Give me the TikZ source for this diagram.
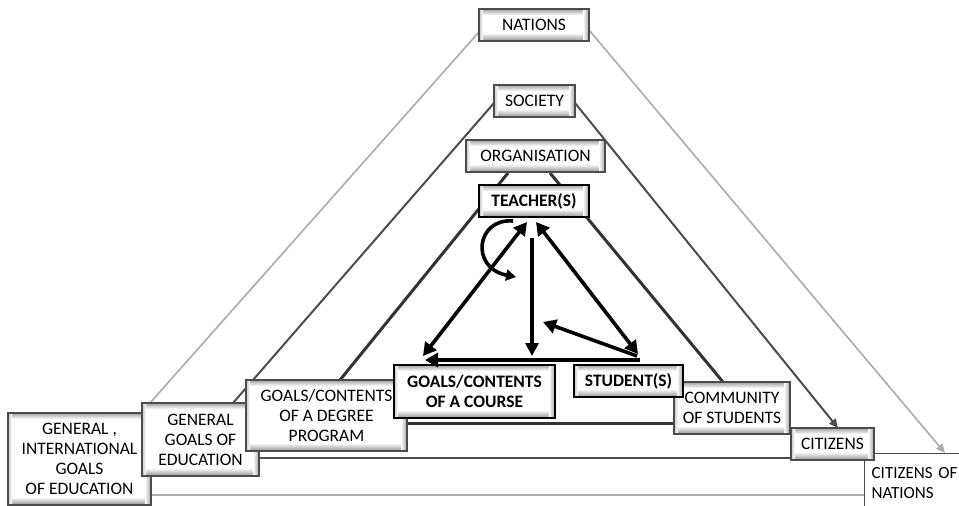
\documentclass[tikz,border=0pt]{standalone}
\usepackage{fontspec}
\setmainfont{Carlito}
\usetikzlibrary{arrows.meta}
\tikzset{
  bevel/.style={path picture={
    \fill[white] (path picture bounding box.south west) rectangle (path picture bounding box.north east);
    \shade[top color=gray!75, bottom color=white] (path picture bounding box.north west) rectangle ([yshift=-6pt]path picture bounding box.north east);
    \shade[top color=white, bottom color=gray!85] ([yshift=8pt]path picture bounding box.south west) rectangle (path picture bounding box.south east);
    \shade[left color=white, right color=gray!75] ([xshift=-6pt]path picture bounding box.south east) rectangle (path picture bounding box.north east);
    \shade[left color=gray!45, right color=white] (path picture bounding box.south west) rectangle ([xshift=4pt]path picture bounding box.north west);
  }},
  box/.style={bevel, draw=gray!60!black, line width=1.3pt, inner sep=0pt, align=center,
    font=\fontsize{17.5}{20}\selectfont},
  bbox/.style={box, draw=black, line width=1.8pt, font=\fontsize{17.5}{20}\selectfont\bfseries},
  plainbox/.style={draw=gray!60!black, fill=white, line width=1.3pt, align=left,
    font=\fontsize{17}{20}\selectfont, inner xsep=7pt, inner ysep=0pt},
  lineA/.style={draw=gray!65, line width=1.6pt},
  lineB/.style={draw=black!70, line width=2pt},
  lineC/.style={draw=black!80, line width=3pt},
  arr/.style={draw=black, line width=3.6pt},
}
\begin{document}
\begin{tikzpicture}[x=1pt,y=-1pt]
\clip (0,0) rectangle (959,506);
\fill[white] (0,0) rectangle (959,506);

% line end points
\coordinate (oL1) at (479,32);  \coordinate (oL2) at (150,403);
\coordinate (oR1) at (589,30);  \coordinate (oR2) at (945,453);
\coordinate (oB1) at (151,495); \coordinate (oB2) at (864,495);
\coordinate (sL1) at (494,103); \coordinate (sL2) at (233,403);
\coordinate (sR1) at (575,103); \coordinate (sR2) at (838,428);
\coordinate (sB1) at (259,458); \coordinate (sB2) at (791,458);
\coordinate (tL1) at (508,173); \coordinate (tL2) at (340,380);
\coordinate (tR1) at (550,173); \coordinate (tR2) at (723,382);
\coordinate (tB1) at (407,423); \coordinate (tB2) at (674,423);

% triangles
\draw[lineA] (oL1) -- (oL2);
\draw[lineA, -{Triangle[length=9pt,width=8pt]}] (oR1) -- (oR2);
\draw[lineA, line width=2.4pt] (oB1) -- (oB2);
\draw[lineB] (sL1) -- (sL2);
\draw[lineB, -{Triangle[length=9pt,width=8pt]}] (sR1) -- (sR2);
\draw[lineB, line width=2.6pt] (sB1) -- (sB2);
\draw[lineC] (tL1) -- (tL2);
\draw[lineC] (tR1) -- (tR2);
\draw[lineC] (tB1) -- (tB2);

% boxes
\node[plainbox, anchor=north west, text width=112pt, minimum height=58pt] (citn) at (864,453) {CITIZENS OF\\NATIONS};
\node[box, minimum width=83pt, minimum height=32pt] (cit) at (832.5,444) {CITIZENS};
\node[box, minimum width=116pt, minimum height=52pt] (com) at (732,408) {COMMUNITY\\OF STUDENTS};
\node[box, minimum width=143pt, minimum height=92pt] (gint) at (79.5,459) {GENERAL ,\\INTERNATIONAL\\GOALS\\OF EDUCATION};
\node[box, minimum width=117pt, minimum height=73pt] (gen) at (200.5,439.5) {GENERAL\\GOALS OF\\EDUCATION};
\node[box, minimum width=161pt, minimum height=71pt] (deg) at (326.5,415.5) {GOALS/CONTENTS\\OF A DEGREE\\PROGRAM};
\node[bbox, minimum width=161pt, minimum height=53pt] (crs) at (474.5,391.5) {GOALS/CONTENTS\\OF A COURSE};
\node[bbox, minimum width=109pt, minimum height=32pt] (stu) at (628.5,381) {STUDENT(S)};
\node[box, minimum width=110pt, minimum height=32pt] (nat) at (534,25) {NATIONS};
\node[box, minimum width=81pt, minimum height=32pt] (soc) at (534.5,101) {SOCIETY};
\node[box, minimum width=139pt, minimum height=32pt] (org) at (535.5,156) {ORGANISATION};
\node[bbox, minimum width=110pt, minimum height=32pt] (tea) at (534,201) {TEACHER(S)};

% inner arrows
\coordinate (a1t) at (527,222); \coordinate (a1c) at (423,356);
\coordinate (a2t) at (536,222); \coordinate (a2s) at (638,354);
\coordinate (a3t) at (532,238); \coordinate (a3c) at (532,356);
\coordinate (a4s) at (640,360); \coordinate (a4c) at (425,360);
\coordinate (a5s) at (637,356); \coordinate (a5m) at (543,322);
\coordinate (c1) at (513,221);  \coordinate (c2) at (516,277);

\draw[arr, -{Triangle[length=13pt,width=14pt]}] (a4s) -- (a4c);
\draw[arr, {Triangle[length=13pt,width=14pt]}-{Triangle[length=13pt,width=14pt]}] (a1t) -- (a1c);
\draw[arr, {Triangle[length=13pt,width=14pt]}-{Triangle[length=13pt,width=14pt]}] (a2t) -- (a2s);
\draw[arr, -{Triangle[length=13pt,width=13pt]}] (a3t) -- (a3c);
\draw[arr, -{Triangle[length=13pt,width=14pt]}] (a5s) -- (a5m);
\draw[draw=black, line width=3.6pt, -{Triangle[length=10pt,width=11pt]}] (c1) .. controls (476,218) and (470,268) .. (c2);
\end{tikzpicture}
\end{document}
